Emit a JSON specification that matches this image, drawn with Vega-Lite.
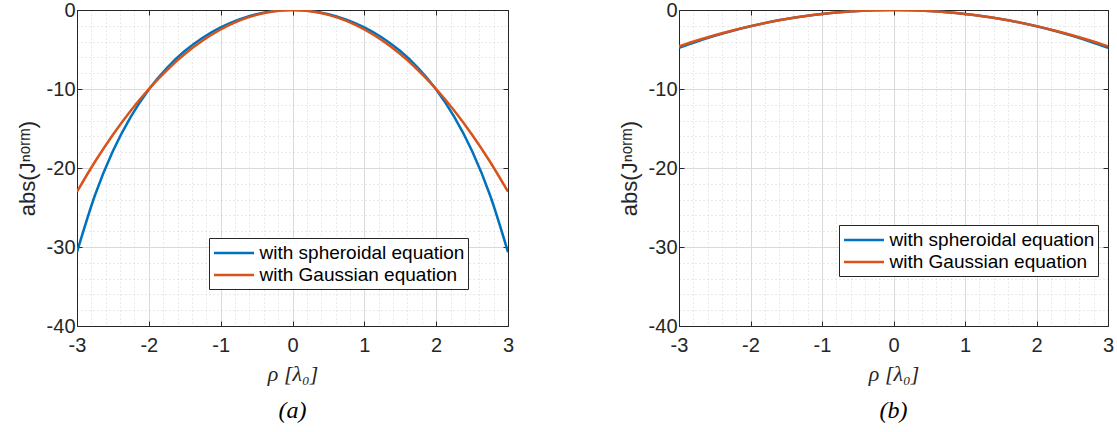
{
  "$schema": "https://vega.github.io/schema/vega-lite/v6.json",
  "background": "white",
  "padding": {"left": 16, "top": 0, "right": 0, "bottom": 0},
  "bounds": "flush",
  "spacing": 171,
  "config": {
    "view": {"stroke": null},
    "font": "Liberation Sans",
    "axis": {
      "labelFont": "Liberation Sans",
      "labelFontSize": 20,
      "labelColor": "#262626",
      "domainColor": "#262626",
      "domainWidth": 1,
      "tickColor": "#262626",
      "tickWidth": 1,
      "titleColor": "#262626",
      "titleFontWeight": "normal"
    },
    "legend": {
      "orient": "none",
      "direction": "vertical",
      "fillColor": "white",
      "strokeColor": "#262626",
      "padding": 3.5,
      "symbolType": "M-1,0H3",
      "symbolSize": 400,
      "symbolStrokeWidth": 2.5,
      "labelFont": "Liberation Sans",
      "labelFontSize": 19,
      "labelColor": "black",
      "labelLimit": 400,
      "labelOffset": 24,
      "rowPadding": 0,
      "title": null
    },
    "title": {
      "font": "Liberation Serif",
      "fontStyle": "italic",
      "fontWeight": "normal",
      "fontSize": 24,
      "color": "black",
      "offset": 15
    }
  },
  "datasets": {
    "a": [
      {"rho": -3, "J": -30.65, "eq": "with spheroidal equation"},
      {"rho": -2.75, "J": -23.452, "eq": "with spheroidal equation"},
      {"rho": -2.5, "J": -17.855, "eq": "with spheroidal equation"},
      {"rho": -2.25, "J": -13.483, "eq": "with spheroidal equation"},
      {"rho": -2, "J": -10.05, "eq": "with spheroidal equation"},
      {"rho": -1.75, "J": -7.34, "eq": "with spheroidal equation"},
      {"rho": -1.5, "J": -5.197, "eq": "with spheroidal equation"},
      {"rho": -1.25, "J": -3.509, "eq": "with spheroidal equation"},
      {"rho": -1, "J": -2.2, "eq": "with spheroidal equation"},
      {"rho": -0.75, "J": -1.22, "eq": "with spheroidal equation"},
      {"rho": -0.5, "J": -0.537, "eq": "with spheroidal equation"},
      {"rho": -0.25, "J": -0.134, "eq": "with spheroidal equation"},
      {"rho": 0, "J": 0, "eq": "with spheroidal equation"},
      {"rho": 0.25, "J": -0.134, "eq": "with spheroidal equation"},
      {"rho": 0.5, "J": -0.537, "eq": "with spheroidal equation"},
      {"rho": 0.75, "J": -1.22, "eq": "with spheroidal equation"},
      {"rho": 1, "J": -2.2, "eq": "with spheroidal equation"},
      {"rho": 1.25, "J": -3.509, "eq": "with spheroidal equation"},
      {"rho": 1.5, "J": -5.197, "eq": "with spheroidal equation"},
      {"rho": 1.75, "J": -7.34, "eq": "with spheroidal equation"},
      {"rho": 2, "J": -10.05, "eq": "with spheroidal equation"},
      {"rho": 2.25, "J": -13.483, "eq": "with spheroidal equation"},
      {"rho": 2.5, "J": -17.855, "eq": "with spheroidal equation"},
      {"rho": 2.75, "J": -23.452, "eq": "with spheroidal equation"},
      {"rho": 3, "J": -30.65, "eq": "with spheroidal equation"},
      {"rho": -3, "J": -23.0, "eq": "with Gaussian equation"},
      {"rho": -2.75, "J": -19.205, "eq": "with Gaussian equation"},
      {"rho": -2.5, "J": -15.781, "eq": "with Gaussian equation"},
      {"rho": -2.25, "J": -12.716, "eq": "with Gaussian equation"},
      {"rho": -2, "J": -10.0, "eq": "with Gaussian equation"},
      {"rho": -1.75, "J": -7.624, "eq": "with Gaussian equation"},
      {"rho": -1.5, "J": -5.581, "eq": "with Gaussian equation"},
      {"rho": -1.25, "J": -3.864, "eq": "with Gaussian equation"},
      {"rho": -1, "J": -2.467, "eq": "with Gaussian equation"},
      {"rho": -0.75, "J": -1.385, "eq": "with Gaussian equation"},
      {"rho": -0.5, "J": -0.615, "eq": "with Gaussian equation"},
      {"rho": -0.25, "J": -0.154, "eq": "with Gaussian equation"},
      {"rho": 0, "J": 0, "eq": "with Gaussian equation"},
      {"rho": 0.25, "J": -0.154, "eq": "with Gaussian equation"},
      {"rho": 0.5, "J": -0.615, "eq": "with Gaussian equation"},
      {"rho": 0.75, "J": -1.385, "eq": "with Gaussian equation"},
      {"rho": 1, "J": -2.467, "eq": "with Gaussian equation"},
      {"rho": 1.25, "J": -3.864, "eq": "with Gaussian equation"},
      {"rho": 1.5, "J": -5.581, "eq": "with Gaussian equation"},
      {"rho": 1.75, "J": -7.624, "eq": "with Gaussian equation"},
      {"rho": 2, "J": -10.0, "eq": "with Gaussian equation"},
      {"rho": 2.25, "J": -12.716, "eq": "with Gaussian equation"},
      {"rho": 2.5, "J": -15.781, "eq": "with Gaussian equation"},
      {"rho": 2.75, "J": -19.205, "eq": "with Gaussian equation"},
      {"rho": 3, "J": -23.0, "eq": "with Gaussian equation"}
    ],
    "b": [
      {"rho": -3, "J": -4.802, "eq": "with spheroidal equation"},
      {"rho": -2.75, "J": -3.99, "eq": "with spheroidal equation"},
      {"rho": -2.5, "J": -3.263, "eq": "with spheroidal equation"},
      {"rho": -2.25, "J": -2.618, "eq": "with spheroidal equation"},
      {"rho": -2, "J": -2.051, "eq": "with spheroidal equation"},
      {"rho": -1.75, "J": -1.558, "eq": "with spheroidal equation"},
      {"rho": -1.5, "J": -1.137, "eq": "with spheroidal equation"},
      {"rho": -1.25, "J": -0.785, "eq": "with spheroidal equation"},
      {"rho": -1, "J": -0.5, "eq": "with spheroidal equation"},
      {"rho": -0.75, "J": -0.28, "eq": "with spheroidal equation"},
      {"rho": -0.5, "J": -0.124, "eq": "with spheroidal equation"},
      {"rho": -0.25, "J": -0.031, "eq": "with spheroidal equation"},
      {"rho": 0, "J": 0, "eq": "with spheroidal equation"},
      {"rho": 0.25, "J": -0.031, "eq": "with spheroidal equation"},
      {"rho": 0.5, "J": -0.124, "eq": "with spheroidal equation"},
      {"rho": 0.75, "J": -0.28, "eq": "with spheroidal equation"},
      {"rho": 1, "J": -0.5, "eq": "with spheroidal equation"},
      {"rho": 1.25, "J": -0.785, "eq": "with spheroidal equation"},
      {"rho": 1.5, "J": -1.137, "eq": "with spheroidal equation"},
      {"rho": 1.75, "J": -1.558, "eq": "with spheroidal equation"},
      {"rho": 2, "J": -2.051, "eq": "with spheroidal equation"},
      {"rho": 2.25, "J": -2.618, "eq": "with spheroidal equation"},
      {"rho": 2.5, "J": -3.263, "eq": "with spheroidal equation"},
      {"rho": 2.75, "J": -3.99, "eq": "with spheroidal equation"},
      {"rho": 3, "J": -4.802, "eq": "with spheroidal equation"},
      {"rho": -3, "J": -4.599, "eq": "with Gaussian equation"},
      {"rho": -2.75, "J": -3.864, "eq": "with Gaussian equation"},
      {"rho": -2.5, "J": -3.194, "eq": "with Gaussian equation"},
      {"rho": -2.25, "J": -2.587, "eq": "with Gaussian equation"},
      {"rho": -2, "J": -2.044, "eq": "with Gaussian equation"},
      {"rho": -1.75, "J": -1.565, "eq": "with Gaussian equation"},
      {"rho": -1.5, "J": -1.15, "eq": "with Gaussian equation"},
      {"rho": -1.25, "J": -0.798, "eq": "with Gaussian equation"},
      {"rho": -1, "J": -0.511, "eq": "with Gaussian equation"},
      {"rho": -0.75, "J": -0.287, "eq": "with Gaussian equation"},
      {"rho": -0.5, "J": -0.128, "eq": "with Gaussian equation"},
      {"rho": -0.25, "J": -0.032, "eq": "with Gaussian equation"},
      {"rho": 0, "J": 0, "eq": "with Gaussian equation"},
      {"rho": 0.25, "J": -0.032, "eq": "with Gaussian equation"},
      {"rho": 0.5, "J": -0.128, "eq": "with Gaussian equation"},
      {"rho": 0.75, "J": -0.287, "eq": "with Gaussian equation"},
      {"rho": 1, "J": -0.511, "eq": "with Gaussian equation"},
      {"rho": 1.25, "J": -0.798, "eq": "with Gaussian equation"},
      {"rho": 1.5, "J": -1.15, "eq": "with Gaussian equation"},
      {"rho": 1.75, "J": -1.565, "eq": "with Gaussian equation"},
      {"rho": 2, "J": -2.044, "eq": "with Gaussian equation"},
      {"rho": 2.25, "J": -2.587, "eq": "with Gaussian equation"},
      {"rho": 2.5, "J": -3.194, "eq": "with Gaussian equation"},
      {"rho": 2.75, "J": -3.864, "eq": "with Gaussian equation"},
      {"rho": 3, "J": -4.599, "eq": "with Gaussian equation"}
    ]
  },
  "hconcat": [
    {
      "width": 431,
      "height": 316,
      "data": {"name": "a"},
      "title": {"text": "(a)", "orient": "bottom"},
      "layer": [
        {
          "mark": {"type": "line", "strokeWidth": 2.5, "interpolate": "monotone", "clip": true},
          "encoding": {
            "x": {
              "field": "rho", "type": "quantitative",
              "scale": {"domain": [-3, 3], "nice": false, "zero": false},
              "axis": {
                "orient": "bottom",
                "values": [-3, -2.8, -2.6, -2.4, -2.2, -2, -1.8, -1.6, -1.4, -1.2, -1, -0.8, -0.6, -0.4, -0.2, 0, 0.2, 0.4, 0.6, 0.8, 1, 1.2, 1.4, 1.6, 1.8, 2, 2.2, 2.4, 2.6, 2.8, 3],
                "labelExpr": "datum.value % 1 === 0 ? '' + datum.value : ''",
                "labelPadding": 14,
                "labelFlush": false,
                "labelOverlap": false,
                "tickSize": -5,
                "tickOpacity": {"condition": {"test": "datum.value % 1 === 0", "value": 1}, "value": 0},
                "grid": true,
                "gridColor": {"condition": {"test": "datum.value % 1 === 0", "value": "#dadada"}, "value": "#d4d4d4"},
                "gridDash": {"condition": {"test": "datum.value % 1 === 0", "value": []}, "value": [1, 3]},
                "title": "ρ [λ₀]",
                "titleFont": "Liberation Serif",
                "titleFontStyle": "italic",
                "titleFontSize": 22,
                "titlePadding": 8
              }
            },
            "y": {
              "field": "J", "type": "quantitative",
              "scale": {"domain": [-40, 0], "nice": false, "zero": false},
              "axis": {
                "orient": "left",
                "values": [-40, -38, -36, -34, -32, -30, -28, -26, -24, -22, -20, -18, -16, -14, -12, -10, -8, -6, -4, -2, 0],
                "labelExpr": "datum.value % 10 === 0 ? '' + datum.value : ''",
                "labelPadding": 7,
                "labelFlush": false,
                "labelOverlap": false,
                "tickSize": -5,
                "tickOpacity": {"condition": {"test": "datum.value % 10 === 0", "value": 1}, "value": 0},
                "grid": true,
                "gridColor": {"condition": {"test": "datum.value % 10 === 0", "value": "#dadada"}, "value": "#d4d4d4"},
                "gridDash": {"condition": {"test": "datum.value % 10 === 0", "value": []}, "value": [1, 3]},
                "title": "abs(Jⁿᵒʳᵐ)",
                "titleFont": "Liberation Sans",
                "titleFontSize": 22,
                "titlePadding": 7
              }
            },
            "color": {
              "field": "eq", "type": "nominal",
              "scale": {"domain": ["with spheroidal equation", "with Gaussian equation"], "range": ["#0072BD", "#D95319"]},
              "legend": {"legendX": 132, "legendY": 228}
            }
          }
        },
        {
          "mark": {"type": "line", "strokeOpacity": 0},
          "encoding": {
            "x": {
              "field": "rho", "type": "quantitative",
              "axis": {"orient": "top", "values": [-3, -2, -1, 0, 1, 2, 3], "labels": false, "tickSize": -5, "grid": false, "title": null}
            },
            "y": {
              "field": "J", "type": "quantitative",
              "axis": {"orient": "right", "values": [-40, -30, -20, -10, 0], "labels": false, "tickSize": -5, "grid": false, "title": null}
            }
          }
        }
      ],
      "resolve": {"axis": {"x": "independent", "y": "independent"}}
    },
    {
      "width": 429,
      "height": 316,
      "data": {"name": "b"},
      "title": {"text": "(b)", "orient": "bottom"},
      "layer": [
        {
          "mark": {"type": "line", "strokeWidth": 2.5, "interpolate": "monotone", "clip": true},
          "encoding": {
            "x": {
              "field": "rho", "type": "quantitative",
              "scale": {"domain": [-3, 3], "nice": false, "zero": false},
              "axis": {
                "orient": "bottom",
                "values": [-3, -2.8, -2.6, -2.4, -2.2, -2, -1.8, -1.6, -1.4, -1.2, -1, -0.8, -0.6, -0.4, -0.2, 0, 0.2, 0.4, 0.6, 0.8, 1, 1.2, 1.4, 1.6, 1.8, 2, 2.2, 2.4, 2.6, 2.8, 3],
                "labelExpr": "datum.value % 1 === 0 ? '' + datum.value : ''",
                "labelPadding": 14,
                "labelFlush": false,
                "labelOverlap": false,
                "tickSize": -5,
                "tickOpacity": {"condition": {"test": "datum.value % 1 === 0", "value": 1}, "value": 0},
                "grid": true,
                "gridColor": {"condition": {"test": "datum.value % 1 === 0", "value": "#dadada"}, "value": "#d4d4d4"},
                "gridDash": {"condition": {"test": "datum.value % 1 === 0", "value": []}, "value": [1, 3]},
                "title": "ρ [λ₀]",
                "titleFont": "Liberation Serif",
                "titleFontStyle": "italic",
                "titleFontSize": 22,
                "titlePadding": 8
              }
            },
            "y": {
              "field": "J", "type": "quantitative",
              "scale": {"domain": [-40, 0], "nice": false, "zero": false},
              "axis": {
                "orient": "left",
                "values": [-40, -38, -36, -34, -32, -30, -28, -26, -24, -22, -20, -18, -16, -14, -12, -10, -8, -6, -4, -2, 0],
                "labelExpr": "datum.value % 10 === 0 ? '' + datum.value : ''",
                "labelPadding": 7,
                "labelFlush": false,
                "labelOverlap": false,
                "tickSize": -5,
                "tickOpacity": {"condition": {"test": "datum.value % 10 === 0", "value": 1}, "value": 0},
                "grid": true,
                "gridColor": {"condition": {"test": "datum.value % 10 === 0", "value": "#dadada"}, "value": "#d4d4d4"},
                "gridDash": {"condition": {"test": "datum.value % 10 === 0", "value": []}, "value": [1, 3]},
                "title": "abs(Jⁿᵒʳᵐ)",
                "titleFont": "Liberation Sans",
                "titleFontSize": 22,
                "titlePadding": 7
              }
            },
            "color": {
              "field": "eq", "type": "nominal",
              "scale": {"domain": ["with spheroidal equation", "with Gaussian equation"], "range": ["#0072BD", "#D95319"]},
              "legend": {"legendX": 160, "legendY": 215}
            }
          }
        },
        {
          "mark": {"type": "line", "strokeOpacity": 0},
          "encoding": {
            "x": {
              "field": "rho", "type": "quantitative",
              "axis": {"orient": "top", "values": [-3, -2, -1, 0, 1, 2, 3], "labels": false, "tickSize": -5, "grid": false, "title": null}
            },
            "y": {
              "field": "J", "type": "quantitative",
              "axis": {"orient": "right", "values": [-40, -30, -20, -10, 0], "labels": false, "tickSize": -5, "grid": false, "title": null}
            }
          }
        }
      ],
      "resolve": {"axis": {"x": "independent", "y": "independent"}}
    }
  ],
  "resolve": {"scale": {"color": "independent"}}
}
